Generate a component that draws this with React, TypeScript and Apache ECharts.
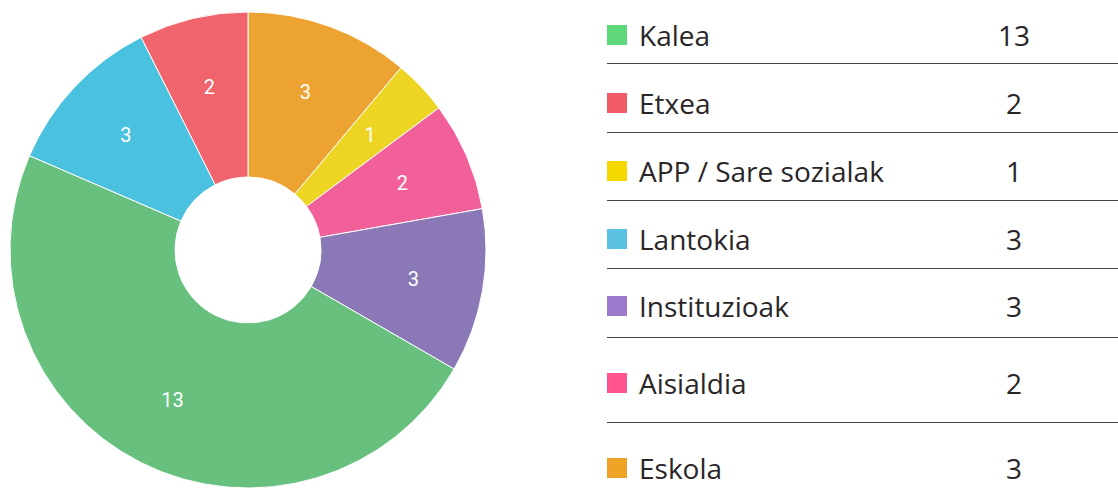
import React, { useEffect, useRef } from "react";
import * as echarts from "echarts";

// Pie order (clockwise from 12 o'clock)
const pieNames = ["Eskola", "APP / Sare sozialak", "Aisialdia", "Instituzioak", "Kalea", "Lantokia", "Etxea"];
const pieValues = [3, 1, 2, 3, 13, 3, 2];
const pieColors = ["#EDA332", "#EED524", "#F2609A", "#8B78B6", "#67C07E", "#4AC1DF", "#F0646D"];

// Legend table order
const tableNames = ["Kalea", "Etxea", "APP / Sare sozialak", "Lantokia", "Instituzioak", "Aisialdia", "Eskola"];
const tableValues = [13, 2, 1, 3, 3, 2, 3];
const tableColors = ["#5FD87A", "#F25C67", "#F5D800", "#5BC1E3", "#9C7BCC", "#FF5490", "#EDA325"];

// layout (row centres and separator lines)
const ROW_Y = [35, 103, 171, 239, 306, 383, 468];
const LINE_Y = [63, 132, 200, 268, 337, 422];

export default function App() {
  const ref = useRef<HTMLDivElement>(null);
  useEffect(() => {
    const chart = echarts.init(ref.current!, null, { renderer: "svg" });
    const data = pieNames.map((n, i) => ({ name: n, value: pieValues[i], itemStyle: { color: pieColors[i] } }));
    const graphics: any[] = [];
    const font = "28px 'Open Sans', Lato, sans-serif";
    tableNames.forEach((n, i) => {
      const y = ROW_Y[i];
      graphics.push({
        type: "rect",
        shape: { x: 607, y: y - 10, width: 20, height: 20 },
        style: { fill: tableColors[i] },
      });
      graphics.push({
        type: "text",
        x: 639,
        y: y,
        style: { text: n, fill: "#2a2628", font, verticalAlign: "middle", align: "left" },
      });
      graphics.push({
        type: "text",
        x: 1014,
        y: y,
        style: { text: String(tableValues[i]), fill: "#2a2628", font, verticalAlign: "middle", align: "center" },
      });
    });
    LINE_Y.forEach((y) => {
      graphics.push({
        type: "line",
        shape: { x1: 607, y1: y + 0.5, x2: 1118, y2: y + 0.5 },
        style: { stroke: "#444", lineWidth: 1 },
      });
    });
    chart.setOption({
      animation: false,
      series: [
        {
          type: "pie",
          center: [248, 250],
          radius: [73, 238],
          startAngle: 90,
          clockwise: true,
          silent: true,
          data,
          itemStyle: { borderColor: "#fff", borderWidth: 1 },
          label: { show: false },
          labelLine: { show: false },
        },
        {
          type: "pie",
          center: [248, 250],
          radius: [90, 240],
          startAngle: 90,
          clockwise: true,
          silent: true,
          data: pieNames.map((n, i) => ({ name: n, value: pieValues[i] })),
          itemStyle: { color: "rgba(0,0,0,0)" },
          label: {
            show: true,
            position: "inside",
            formatter: "{c}",
            color: "#fff",
            fontSize: 20,
            fontFamily: "Roboto, sans-serif",
          },
          labelLine: { show: false },
        },
      ],
      graphic: graphics,
    });
    return () => chart.dispose();
  }, []);
  return <div ref={ref} style={{ width: 1118, height: 500, position: "absolute", left: 0, top: 0 }} />;
}
